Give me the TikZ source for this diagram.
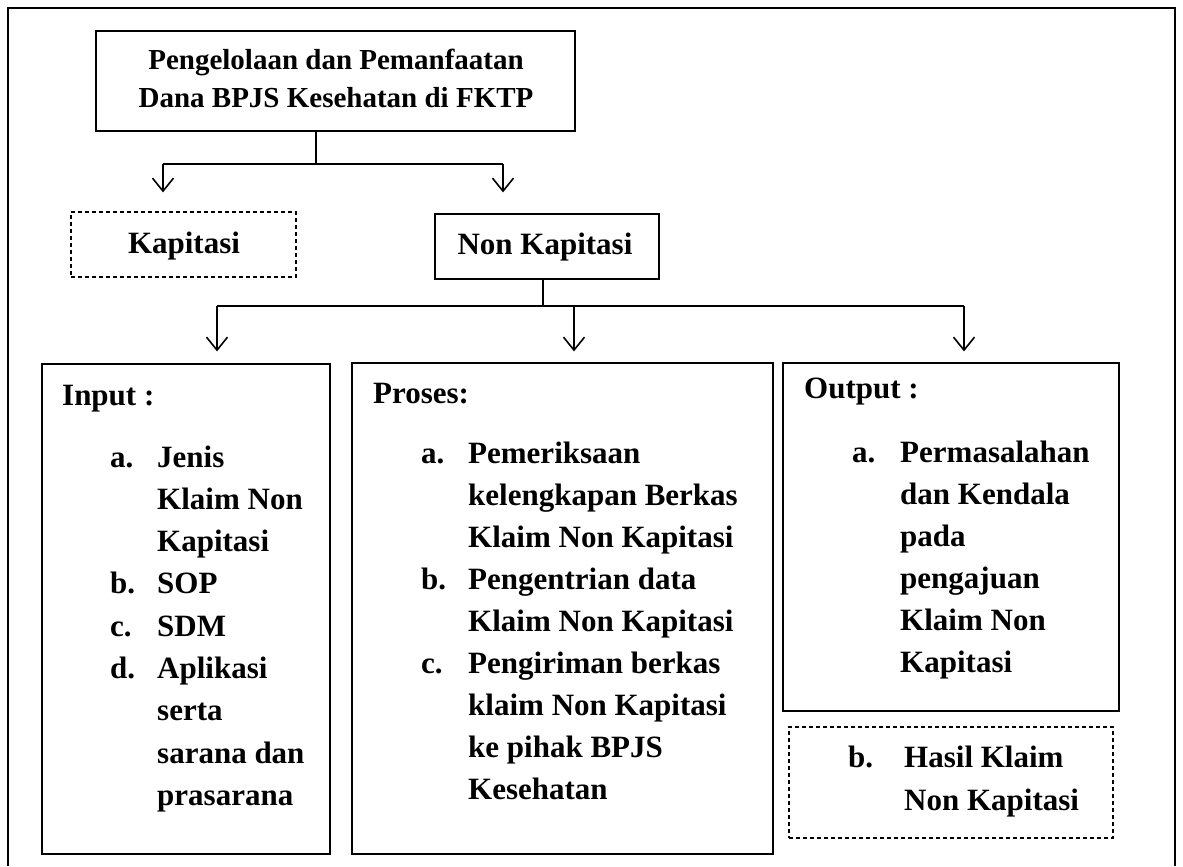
\documentclass[tikz,border=0pt]{standalone}
\usepackage{fontspec}
\setmainfont{Liberation Serif}
\usetikzlibrary{arrows.meta}
\tikzset{
  box/.style={draw, line width=1.2pt, inner sep=0pt},
  dbox/.style={box, dash pattern=on 4pt off 3pt},
  txt/.style={anchor=base west, inner sep=0pt, font=\fontsize{31}{42}\selectfont\bfseries},
  ttl/.style={anchor=base, inner sep=0pt, font=\fontsize{29}{38}\selectfont\bfseries},
  conn/.style={line width=1.8pt},
  arr/.style={line width=1.6pt, -{Straight Barb[length=13pt,width=21pt,line width=1.6pt]}}
}
\begin{document}
\begin{tikzpicture}[x=1pt,y=-1pt]
\useasboundingbox (0,0) rectangle (1183,867);
% outer frame
\draw[line width=1.2pt] (8,866) -- (8,8) -- (1175,8) -- (1175,866);
% top box
\node[box, minimum width=479pt, minimum height=100pt] (top) at (335.5,81) {};
\node[ttl] (t1) at (336,70) {Pengelolaan dan Pemanfaatan};
\node[ttl] (t2) at (336,107) {Dana BPJS Kesehatan di FKTP};
% second level boxes
\node[dbox, minimum width=225pt, minimum height=65pt] (kap) at (183.5,244.5) {};
\node[anchor=base, inner sep=0pt, font=\fontsize{31}{42}\selectfont\bfseries] (kapt) at (184,253) {Kapitasi};
\node[box, minimum width=224pt, minimum height=65pt] (non) at (547,246.5) {};
\node[anchor=base, inner sep=0pt, font=\fontsize{31}{42}\selectfont\bfseries] (nont) at (545,254) {Non Kapitasi};
% connectors level 1
\coordinate (j1) at (316,164);
\coordinate (jl) at (163,164);
\coordinate (jr) at (503,164);
\draw[conn] (top.south -| j1) -- (j1);
\draw[conn] (jl) -- (jr);
\draw[arr, shorten >=19pt] (jl) -- (jl |- kap.north);
\draw[arr, shorten >=21pt] (jr) -- (jr |- non.north);
% third level boxes
\node[box, minimum width=288pt, minimum height=490pt] (in) at (186,609) {};
\node[box, minimum width=421pt, minimum height=491pt] (pr) at (562.5,608.5) {};
\node[box, minimum width=336pt, minimum height=348pt] (out) at (951,537) {};
\node[dbox, minimum width=324pt, minimum height=111pt] (has) at (951,782.5) {};
% connectors level 2
\coordinate (k1) at (543,306);
\coordinate (kl) at (217,306);
\coordinate (km) at (574,306);
\coordinate (kr) at (964,306);
\draw[conn] (non.south -| k1) -- (k1);
\draw[conn] (kl) -- (kr);
\draw[arr, shorten >=12pt] (kl) -- (kl |- in.north);
\draw[arr, shorten >=11pt] (km) -- (km |- pr.north);
\draw[arr, shorten >=11pt] (kr) -- (kr |- out.north);
% Input text
\node[txt] (inh) at (62,405) {Input :};
\foreach \t [count=\i from 0] in {Jenis, Klaim Non, Kapitasi, SOP, SDM, Aplikasi, serta, sarana dan, prasarana}
  \node[txt] (in\i) at (157,{467+42.3*\i}) {\t};
\node[txt] (ina) at (110,467) {a.};
\node[txt] (inb) at (110,{467+42.3*3}) {b.};
\node[txt] (inc) at (110,{467+42.3*4}) {c.};
\node[txt] (ind) at (110,{467+42.3*5}) {d.};
% Proses text
\node[txt] (prh) at (373,403) {Proses:};
\foreach \t [count=\i from 0] in {Pemeriksaan, kelengkapan Berkas, Klaim Non Kapitasi, Pengentrian data, Klaim Non Kapitasi, Pengiriman berkas, klaim Non Kapitasi, ke pihak BPJS, Kesehatan}
  \node[txt] (pr\i) at (468,{463+42.1*\i}) {\t};
\node[txt] (pra) at (421,463) {a.};
\node[txt] (prb) at (421,{463+42.1*3}) {b.};
\node[txt] (prc) at (421,{463+42.1*5}) {c.};
% Output text
\node[txt] (outh) at (804,398) {Output :};
\foreach \t [count=\i from 0] in {Permasalahan, dan Kendala, pada, pengajuan, Klaim Non, Kapitasi}
  \node[txt] (out\i) at (900,{462+42*\i}) {\t};
\node[txt] (outa) at (852,462) {a.};
% Hasil text
\node[txt] (hasb) at (848,767) {b.};
\node[txt] (has0) at (904,767) {Hasil Klaim};
\node[txt] (has1) at (904,810) {Non Kapitasi};
\end{tikzpicture}
\end{document}
